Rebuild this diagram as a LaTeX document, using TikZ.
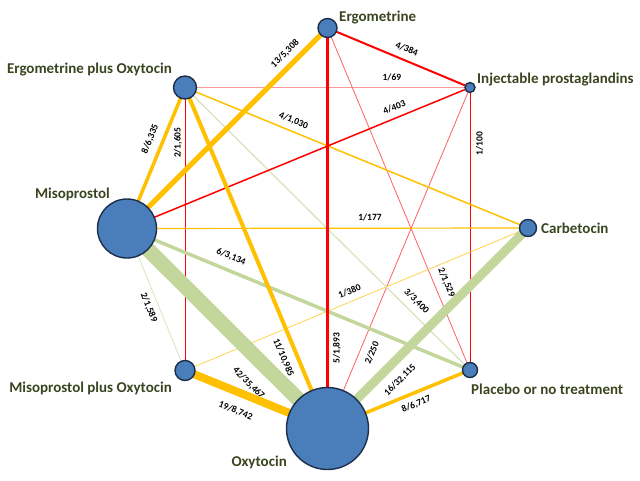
\documentclass[tikz,border=0pt]{standalone}
\usepackage{fontspec}
\setmainfont{Carlito}
\pgfdeclarelayer{bg}
\pgfsetlayers{bg,main}
\definecolor{yel}{HTML}{FFC000}
\definecolor{yellt}{HTML}{FFD24D}
\definecolor{grn}{HTML}{C3D69B}
\definecolor{grnlt}{HTML}{D7E4BD}
\definecolor{rd}{HTML}{FF0000}
\definecolor{rdlt}{HTML}{FF6060}
\definecolor{pnk}{HTML}{FF9999}
\definecolor{nodefill}{HTML}{4A7EBB}
\definecolor{nodeline}{HTML}{1C2E4A}
\definecolor{txt}{HTML}{3A4520}
\begin{document}
\begin{tikzpicture}[x=1pt,y=1pt,
  drug/.style={circle, fill=nodefill, draw=nodeline, line width=1.4pt, inner sep=0pt},
  drugname/.style={text=txt, font=\fontsize{15}{18}\selectfont\bfseries, inner sep=0pt},
  lblbase/.style={text=black, font=\fontsize{9.5}{10}\selectfont\bfseries, inner xsep=0pt, text height=6pt, text depth=1pt},
  lbl/.style={lblbase, sloped},
  vlbl/.style={lblbase, xshift=#1, rotate=90, anchor=center, inner ysep=0pt}]
\useasboundingbox (0,0) rectangle (640,-480);
% drug nodes
\node[drug, minimum size=19pt] (ergo) at (327.5,-28) {};
\node[drug, minimum size=23pt] (epo) at (185,-87.5) {};
\node[drug, minimum size=10pt] (inj) at (470,-87.5) {};
\node[drug, minimum size=59pt] (miso) at (127,-228.5) {};
\node[drug, minimum size=17pt] (carb) at (528,-228) {};
\node[drug, minimum size=20pt] (mpo) at (185,-370.5) {};
\node[drug, minimum size=15pt] (plac) at (470,-370) {};
\node[drug, minimum size=82pt] (oxy) at (327.5,-428.5) {};
% names
\node[drugname, anchor=base west] (tergo) at (339,-21.5) {Ergometrine};
\node[drugname, anchor=base east] (tepo) at (172,-73.5) {Ergometrine plus Oxytocin};
\node[drugname, anchor=base west] (tinj) at (477,-83) {Injectable prostaglandins};
\node[drugname, anchor=base east] (tmiso) at (110,-198.5) {Misoprostol};
\node[drugname, anchor=base west] (tcarb) at (541,-233.5) {Carbetocin};
\node[drugname, anchor=base east] (tmpo) at (172,-392.5) {Misoprostol plus Oxytocin};
\node[drugname, anchor=base east] (toxy) at (287,-466.5) {Oxytocin};
\node[drugname, anchor=base west] (tplac) at (471,-394.5) {Placebo or no treatment};
% connectors
\begin{pgfonlayer}{bg}
\draw[pnk, line width=1.5pt] (epo.center) -- node[lbl,pos=.726,above,inner ysep=5.5pt] (l1) {1/69} (inj.center);
\draw[rd, line width=1pt] (mpo.center) -- node[vlbl=-7pt,pos=.805] (l2) {2/1,605} (epo.center);
\draw[rd, line width=1pt] (plac.center) -- node[vlbl=10pt,pos=.802] (l3) {1/100} (inj.center);
\draw[rdlt, line width=0.8pt] (ergo.center) -- node[lbl,pos=.758,above,inner ysep=7.7pt] (l4) {2/1,529} (plac.center);
\draw[rdlt, line width=0.8pt] (inj.center) -- node[lbl,pos=.765,below,inner ysep=8.5pt] (l5) {2/250} (oxy.center);
\draw[grnlt, line width=0.8pt] (miso.center) -- node[lbl,pos=.531,below,inner ysep=6pt] (l6) {2/1,589} (mpo.center);
\draw[yellt, line width=0.8pt] (mpo.center) -- node[lbl,pos=.491,above,inner ysep=5.5pt] (l7) {1/380} (carb.center);
\draw[yel, line width=1.2pt] (miso.center) -- node[lbl,pos=.606,above,inner ysep=6.5pt] (l8) {1/177} (carb.center);
\draw[grnlt, line width=1.3pt] (epo.center) -- node[lbl,pos=.785,above,inner ysep=6.7pt] (l9) {3/3,400} (plac.center);
\draw[yel, line width=1.5pt] (epo.center) -- node[lbl,pos=.305,above,inner ysep=5.8pt] (l10) {4/1,030} (carb.center);
\draw[rd, line width=1.5pt] (miso.center) -- node[lbl,pos=.791,above,inner ysep=5.6pt] (l11) {4/403} (inj.center);
\draw[rd, line width=2pt] (ergo.center) -- node[lbl,pos=.526,above,inner ysep=6.3pt] (l12) {4/384} (inj.center);
\draw[grn, line width=3.5pt] (miso.center) -- node[lbl,pos=.288,above,inner ysep=8.3pt] (l13) {6/3,134} (plac.center);
\draw[grn, line width=15pt] (miso.center) -- node[lbl,pos=.69,below,inner ysep=12.8pt] (l14) {42/35,467} (oxy.center);
\draw[grn, line width=9pt] (oxy.center) -- node[lbl,pos=.302,below,inner ysep=9.2pt] (l15) {16/32,115} (carb.center);
\draw[yel, line width=3.5pt] (epo.center) -- node[lbl,pos=.40,above,inner ysep=7.1pt] (l16) {8/6,335} (miso.center);
\draw[yel, line width=4pt] (epo.center) -- node[lbl,pos=.777,below,inner ysep=8.1pt] (l17) {11/10,985} (oxy.center);
\draw[yel, line width=5pt] (ergo.center) -- node[lbl,pos=.17,above,inner ysep=5.7pt] (l18) {13/5,308} (miso.center);
\draw[yel, line width=8pt] (mpo.center) -- node[lbl,pos=.4035,below,inner ysep=11pt] (l19) {19/8,742} (oxy.center);
\draw[yel, line width=3.5pt] (oxy.center) -- node[lbl,pos=.592,below,inner ysep=6.4pt] (l20) {8/6,717} (plac.center);
\draw[rd, line width=2.7pt] (oxy.center) -- node[vlbl=9.5pt,pos=.20] (l21) {5/1,893} (ergo.center);
\end{pgfonlayer}
\end{tikzpicture}
\end{document}
